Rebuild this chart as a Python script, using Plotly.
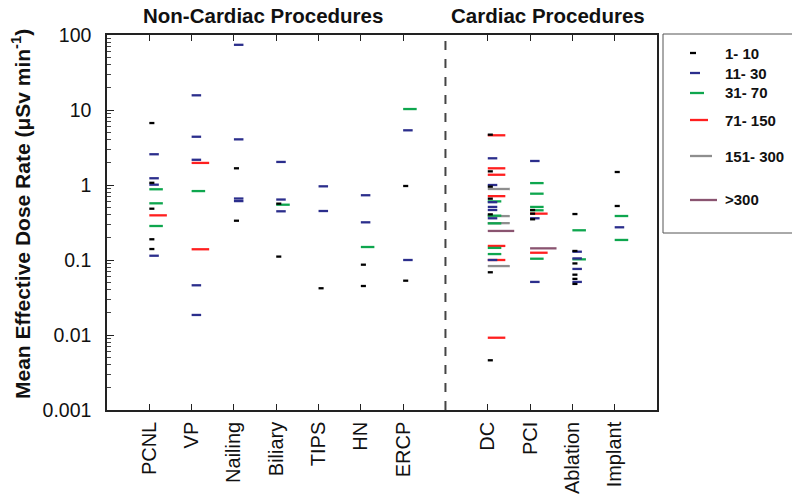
import plotly.graph_objects as go

# ---------------- data ----------------
categories = ["PCNL", "VP", "Nailing", "Biliary", "TIPS", "HN", "ERCP",
              "DC", "PCI", "Ablation", "Implant"]
cat_pos = [1, 2, 3, 4, 5, 6, 7, 9, 10, 11, 12]
divider_pos = 8

group_names = ["1- 10", "11- 30", "31- 70", "71- 150", "151- 300", ">300"]

g1_10 = {
    "PCNL": [6.7, 1.07, 0.483, 0.189, 0.14],
    "Nailing": [1.67, 0.334],
    "Biliary": [0.564, 0.111],
    "TIPS": [0.042],
    "HN": [0.0866, 0.045],
    "ERCP": [0.97, 0.053],
    "DC": [4.69, 1.52, 0.95, 0.657, 0.406, 0.0686, 0.0046],
    "PCI": [0.464, 0.415, 0.349],
    "Ablation": [0.41, 0.132, 0.09, 0.0637, 0.056, 0.048],
    "Implant": [1.49, 0.525],
}
g11_30 = {
    "PCNL": [2.57, 1.23, 1.01, 0.114],
    "VP": [15.7, 4.4, 2.17, 0.046, 0.0185],
    "Nailing": [74, 4.06, 0.66, 0.61],
    "Biliary": [2.03, 0.64, 0.446],
    "TIPS": [0.96, 0.45],
    "HN": [0.73, 0.318],
    "ERCP": [5.36, 0.1],
    "DC": [2.27, 1.0, 0.59, 0.51, 0.464, 0.36, 0.1],
    "PCI": [2.09, 0.36, 0.051],
    "Ablation": [0.129, 0.105, 0.076, 0.051],
    "Implant": [0.273],
}
g31_70 = {
    "PCNL": [0.877, 0.57, 0.284],
    "VP": [0.83],
    "Biliary": [0.546],
    "HN": [0.149],
    "ERCP": [10.3],
    "DC": [0.605, 0.39, 0.308, 0.145, 0.12],
    "PCI": [1.06, 0.766, 0.51, 0.46, 0.104],
    "Ablation": [0.249, 0.102],
    "Implant": [0.386, 0.185],
}
g71_150 = {
    "PCNL": [0.394],
    "VP": [1.97, 0.139],
    "DC": [4.6, 1.67, 1.37, 0.71, 0.154, 0.1, 0.0092],
    "PCI": [0.415, 0.125],
}
g151_300 = {
    "DC": [0.885, 0.385, 0.31, 0.083],
}
g300 = {
    "DC": [0.244],
    "PCI": [0.143],
}

y_tick_vals = [0.001, 0.01, 0.1, 1, 10, 100]
y_tick_text = ["0.001", "0.01", "0.1", "1", "10", "100"]

# ---------------- styling ----------------
groups = [g1_10, g11_30, g31_70, g71_150, g151_300, g300]
colors = ["#000000", "#2B2E8C", "#0EA64E", "#FF1F1F", "#8E8E8E", "#8A5470"]
mark_len = [0.12, 0.225, 0.32, 0.415, 0.52, 0.625]      # in category units
legend_len_px = [6, 10, 14, 18, 22, 27]
legend_y_px = [53, 73, 93, 120, 156, 200]

# page coordinates of the target picture; the page body adds an 8px offset
W, H = 800, 499
OFF = 8
L, R, T, B = 107, 143, 35, 89
PW, PH = W - L - R, H - T - B


def px_x(x):
    return (x - L) / PW


def px_y(y):
    return (H - B - y) / PH


pos_of = dict(zip(categories, cat_pos))
fig = go.Figure()

# draw longest marks first so shorter ones sit on top
for gi in reversed(range(len(groups))):
    xs, ys = [], []
    for cat, vals in groups[gi].items():
        p = pos_of[cat]
        for v in vals:
            xs += [p, p + mark_len[gi], None]
            ys += [v, v, None]
    fig.add_trace(go.Scatter(
        x=xs, y=ys, mode="lines",
        line=dict(color=colors[gi], width=2.3),
        showlegend=False, hoverinfo="skip"))

# dashed divider
fig.add_shape(type="line", xref="x", yref="paper", x0=divider_pos, x1=divider_pos,
              y0=0, y1=1, line=dict(color="#444444", width=2, dash="dash"))

# legend box
fig.add_shape(type="rect", xref="paper", yref="paper",
              x0=px_x(663), x1=px_x(793), y0=px_y(233), y1=px_y(34),
              line=dict(color="#555555", width=1), fillcolor="white")
for gi, name in enumerate(group_names):
    yy = px_y(legend_y_px[gi])
    fig.add_shape(type="line", xref="paper", yref="paper",
                  x0=px_x(690), x1=px_x(690 + legend_len_px[gi]), y0=yy, y1=yy,
                  line=dict(color=colors[gi], width=2.3))
    fig.add_annotation(x=px_x(723), y=yy, xref="paper", yref="paper",
                       text="<b>%s</b>" % name, showarrow=False,
                       xanchor="left", yanchor="middle",
                       font=dict(size=15, color="#111111"))

# section titles
fig.add_annotation(x=px_x(262.5), y=px_y(15), xref="paper", yref="paper",
                   text="<b>Non-Cardiac Procedures</b>", showarrow=False,
                   xanchor="center", yanchor="middle",
                   font=dict(size=20.5, color="#111111"))
fig.add_annotation(x=px_x(547.5), y=px_y(15), xref="paper", yref="paper",
                   text="<b>Cardiac Procedures</b>", showarrow=False,
                   xanchor="center", yanchor="middle",
                   font=dict(size=20.5, color="#111111"))

# y axis title
fig.add_annotation(x=px_x(21), y=px_y(214), xref="paper", yref="paper",
                   text="<b>Mean Effective Dose Rate (\u03bcSv min<sup>-1</sup>)</b>",
                   showarrow=False, textangle=-90,
                   xanchor="center", yanchor="middle",
                   font=dict(size=21, color="#111111"))

fig.update_layout(
    template="none",
    width=W - OFF, height=H - OFF,
    margin=dict(l=L - OFF, r=R, t=T - OFF, b=B, pad=0, autoexpand=False),
    paper_bgcolor="white", plot_bgcolor="white",
    font=dict(family="Liberation Sans, Arial, sans-serif", color="#111111"),
    showlegend=False,
    xaxis=dict(
        range=[0, 13], tickmode="array", tickvals=cat_pos, ticktext=categories,
        tickangle=-90, ticks="inside", ticklen=6, tickwidth=1.3, tickcolor="#222",
        showline=True, linecolor="#222", linewidth=1.5, mirror="ticks",
        showgrid=False, zeroline=False, tickfont=dict(size=20),
        ticklabelstandoff=2, automargin=False,
    ),
    yaxis=dict(
        type="log", range=[-3, 2], tickmode="array",
        tickvals=y_tick_vals, ticktext=y_tick_text,
        ticks="inside", ticklen=7, tickwidth=1.3, tickcolor="#222",
        minor=dict(ticks="inside", ticklen=4, tickcolor="#444", dtick="D1",
                   showgrid=False),
        showline=True, linecolor="#222", linewidth=1.5, mirror=True,
        showgrid=False, zeroline=False, tickfont=dict(size=19.5),
        ticklabelstandoff=10, automargin=False,
    ),
)

fig.write_html("out.html")
